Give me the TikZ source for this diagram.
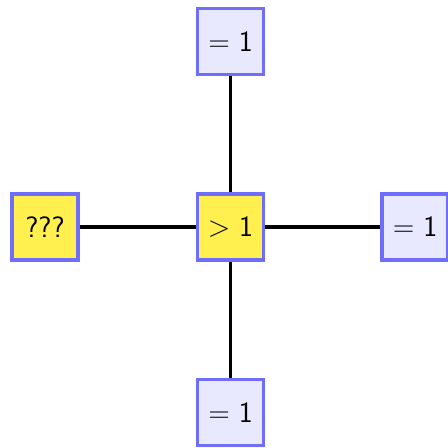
\documentclass[tikz,border=0pt]{standalone}
\usepackage{fontspec}
\definecolor{bordblue}{RGB}{110,110,250}
\definecolor{lav}{RGB}{232,232,255}
\definecolor{yel}{RGB}{255,240,80}
\begin{document}
\begin{tikzpicture}[x=0.025cm,y=-0.025cm,
  box/.style={draw=bordblue,line width=2.8pt,minimum size=1.65cm,inner sep=0pt,font=\sffamily\fontsize{21}{25}\selectfont},
  eq/.style={box,fill=lav},
  yb/.style={box,fill=yel},
  conn/.style={line width=2.8pt}]
\useasboundingbox (0,0) rectangle (448,448);
\clip (0,0) rectangle (448,448);
\node[yb] (c) at (230.5,227) {>\kern0.3em1};
\node[eq] (t) at (230.5,41.5) {=\kern0.3em1};
\node[eq] (b) at (230.5,412.5) {=\kern0.3em1};
\node[yb] (l) at (45,227) {???};
\node[eq] (r) at (415,227) {=\kern0.3em1};
\draw[conn] (c) -- (t);
\draw[conn] (c) -- (b);
\draw[conn] (c) -- (l);
\draw[conn] (c) -- (r);
\end{tikzpicture}
\end{document}
